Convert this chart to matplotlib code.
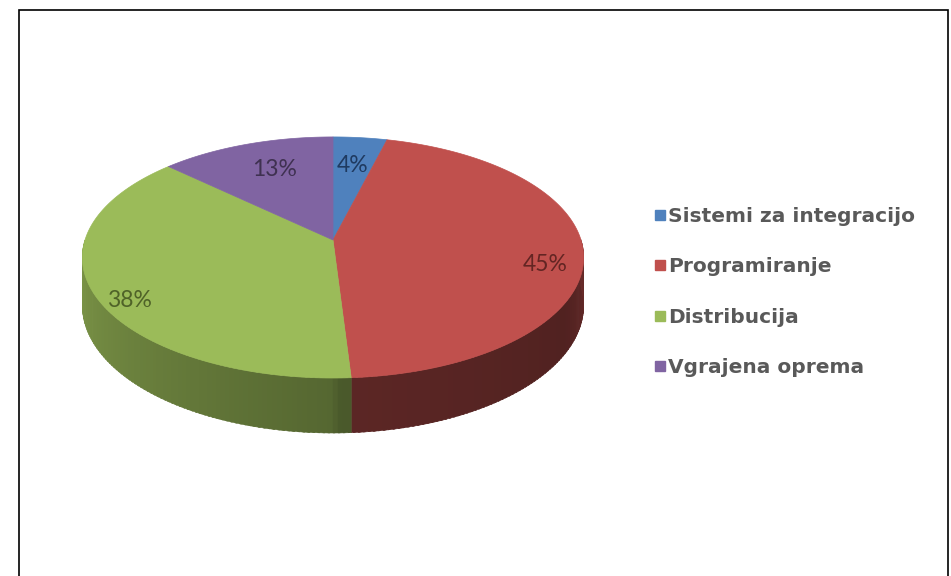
import numpy as np
import matplotlib
matplotlib.use("Agg")
import matplotlib.pyplot as plt
from matplotlib.patches import Polygon, Rectangle
from matplotlib.lines import Line2D
from matplotlib.colors import to_rgb

categories = ["Sistemi za integracijo", "Programiranje", "Distribucija", "Vgrajena oprema"]
values = [4, 45, 38, 13]
colors = ["#4F81BD", "#C0504D", "#9BBB59", "#8064A2"]
label_colors = ["#1F3A60", "#632523", "#4F6228", "#3F3151"]
# label placement (radius fraction, angle offset in degrees)
label_r = [0.70, 0.854, 0.90, 0.70]
label_da = [0.0, -8.5, 6.6, -1.6]

W, H = 951, 576
fig = plt.figure(figsize=(W / 100, H / 100), dpi=100)
fig.patch.set_facecolor("white")

fig.patches.append(Rectangle((19 / W, -0.05), (948 - 19) / W, (H - 10) / H + 0.05,
                             transform=fig.transFigure, fill=False,
                             edgecolor="black", linewidth=1.2, zorder=10))

ax = fig.add_axes([0, 0, 1, 1])
ax.set_xlim(0, W)
ax.set_ylim(H, 0)
ax.axis("off")

# perspective disk geometry
cx, cy = 333, 240
rx, ry, k, depth = 248, 118, 0.145, 47


def proj(r, t_deg, dz=0.0):
    t = np.radians(t_deg)
    xd, yd = r * np.cos(t), r * np.sin(t)
    den = 1 + k * yd
    return cx + rx * xd / den, cy - ry * yd / den + dz / den


fracs = np.array(values, float) / sum(values)
starts = 90 - 360 * np.concatenate([[0], np.cumsum(fracs)[:-1]])
ends = starts - 360 * fracs

# side walls
fx = [180, 270, 271, 330, 360]
fy = [0.82, 0.55, 0.48, 0.42, 0.55]
for s, e, col in zip(starts, ends, colors):
    base = np.array(to_rgb(col))
    a_hi, a_lo = s % 360, e % 360
    if a_hi <= a_lo:
        a_hi += 360
    grid = np.arange(np.floor(a_lo), np.ceil(a_hi) + 1, 1.0)
    grid = np.clip(grid, a_lo, a_hi)
    for a0, a1 in zip(grid[:-1], grid[1:]):
        am = ((a0 + a1) / 2) % 360
        if not (180 <= am <= 360):
            continue
        c = np.clip(base * np.interp(am, fx, fy), 0, 1)
        ts = np.linspace(a0, min(a1 + 0.4, a_hi), 3)
        xt, yt = proj(1, ts)
        xb, yb = proj(1, ts, depth)
        pts = np.concatenate([np.c_[xt, yt], np.c_[xb[::-1], yb[::-1]]])
        ax.add_patch(Polygon(pts, closed=True, facecolor=c, edgecolor=c,
                             linewidth=0.4, zorder=2))

# top faces
for s, e, col in zip(starts, ends, colors):
    ts = np.linspace(s, e, 200)
    xs, ys = proj(1, ts)
    pts = np.concatenate([[[cx, cy]], np.c_[xs, ys]])
    ax.add_patch(Polygon(pts, closed=True, facecolor=col, edgecolor=col,
                         linewidth=0.5, zorder=3))

# percentage labels
for s, e, v, lc, r, da in zip(starts, ends, values, label_colors, label_r, label_da):
    x, y = proj(r, (s + e) / 2 + da)
    ax.text(x, y, f"{v}%", ha="center", va="center", color=lc,
            fontsize=16.5, family="Lato", zorder=5)

handles = [Line2D([], [], marker="s", linestyle="none", markersize=7,
                  markerfacecolor=c, markeredgecolor=c) for c in colors]
leg = fig.legend(handles, categories, loc="upper left",
                 bbox_to_anchor=(655 / W, 1 - 207 / H), frameon=False,
                 handlelength=0.45, handletextpad=0.2, labelspacing=1.56,
                 borderaxespad=0, borderpad=0,
                 prop=dict(family="DejaVu Sans", weight="bold", size=14.5))
for t in leg.get_texts():
    t.set_color("#595959")

fig.savefig("out.png", dpi=100, facecolor="white")
